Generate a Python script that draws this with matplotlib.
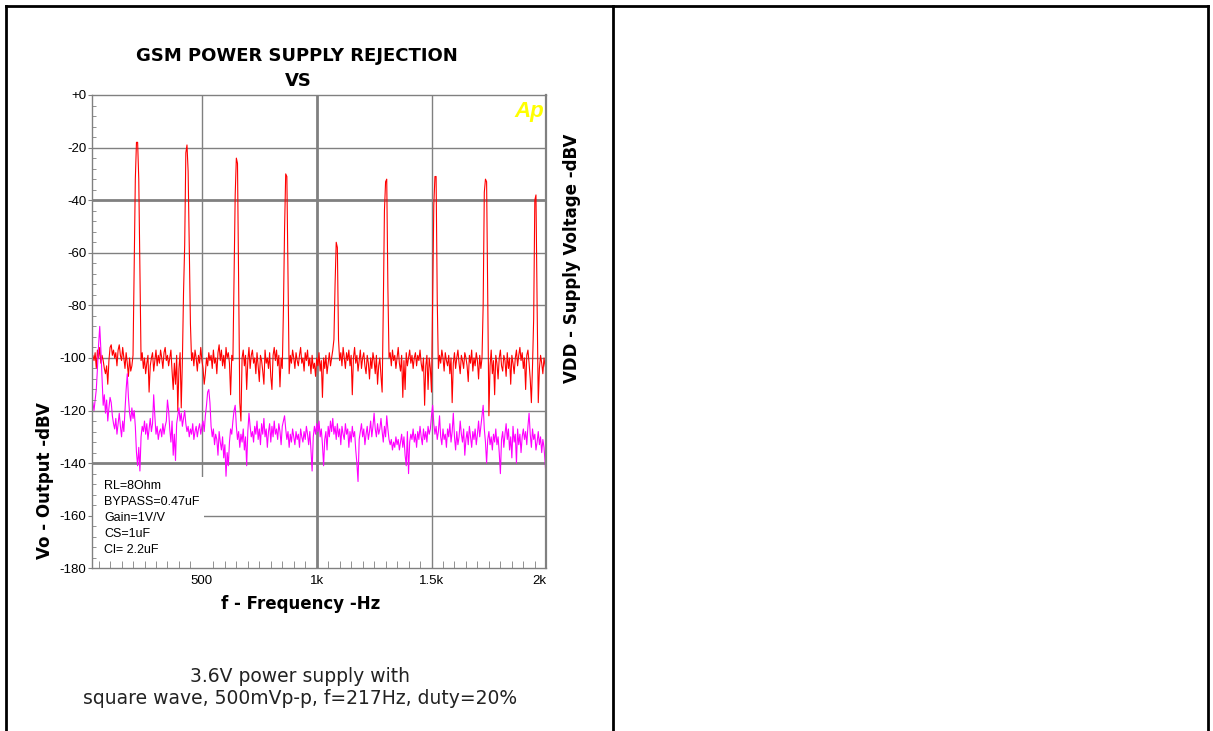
import numpy as np
import matplotlib
matplotlib.use("Agg")
import matplotlib.pyplot as plt
from matplotlib.ticker import MultipleLocator
from matplotlib.patches import Rectangle
from matplotlib.lines import Line2D

# analyzer sweep: 20 Hz .. 2 kHz, one reading every 5 Hz
freq_start = 20
freq_stop = 2000
freq_step = 5

# VDD - supply voltage (dBV), red trace
supply_dbv = [
    -103, -99, -101, -98, -104, -97, -100, -96, -102, -99, -101, -104, -106, -103, -110, -101, -96, -95, -99, -97,
    -100, -98, -103, -97, -95, -99, -101, -96, -100, -104, -98, -102, -107, -100, -105, -103, -99, -66, -32, -18,
    -18, -32, -67, -101, -98, -104, -100, -106, -102, -99, -113, -103, -100, -98, -105, -101, -97, -103, -99, -102,
    -97, -100, -104, -98, -96, -101, -99, -103, -100, -97, -105, -112, -102, -110, -99, -120, -104, -98, -119, -101,
    -75, -57, -22, -19, -29, -57, -87, -101, -98, -103, -97, -100, -105, -99, -102, -96, -101, -104, -110, -106,
    -100, -103, -98, -101, -99, -104, -97, -102, -100, -106, -98, -95, -101, -97, -103, -99, -104, -96, -100, -98,
    -102, -114, -99, -101, -69, -38, -24, -26, -73, -117, -124, -100, -97, -103, -99, -112, -101, -96, -104, -99,
    -97, -102, -100, -106, -98, -103, -109, -99, -101, -105, -110, -97, -102, -100, -104, -98, -107, -112, -99, -96,
    -101, -97, -103, -99, -111, -100, -104, -82, -51, -30, -31, -68, -106, -99, -102, -97, -100, -104, -98, -101,
    -103, -99, -96, -102, -100, -105, -98, -101, -97, -103, -100, -106, -99, -104, -102, -107, -100, -103, -98, -105,
    -101, -115, -100, -104, -99, -106, -102, -98, -103, -100, -97, -93, -72, -56, -58, -93, -101, -98, -103, -96,
    -100, -104, -98, -101, -97, -103, -99, -114, -100, -96, -102, -99, -105, -101, -97, -104, -100, -98, -103, -106,
    -99, -102, -108, -100, -104, -98, -101, -106, -99, -110, -103, -100, -107, -113, -81, -44, -33, -32, -73, -100,
    -98, -103, -97, -101, -99, -104, -100, -96, -102, -105, -99, -115, -101, -112, -98, -103, -100, -97, -102, -99,
    -104, -100, -98, -103, -99, -101, -97, -102, -105, -100, -118, -103, -99, -112, -100, -104, -113, -76, -42, -31,
    -31, -78, -104, -99, -102, -97, -100, -105, -98, -101, -103, -99, -106, -100, -117, -102, -98, -104, -100, -97,
    -102, -106, -99, -101, -104, -98, -100, -103, -109, -99, -102, -97, -105, -100, -103, -98, -101, -108, -99, -104,
    -100, -80, -37, -32, -33, -78, -122, -103, -97, -106, -101, -114, -99, -102, -108, -100, -97, -103, -105, -99,
    -101, -107, -98, -104, -100, -110, -99, -102, -106, -100, -97, -103, -99, -96, -101, -98, -104, -100, -112, -99,
    -97, -102, -108, -117, -103, -85, -40, -38, -80, -117, -104, -99, -102, -106, -100, -103, -105,
]

# Vo - output (dBV), magenta trace
output_dbv = [
    -122, -117, -120, -116, -112, -104, -95, -88, -97, -108, -118, -114, -121, -116, -124, -119, -115, -117, -122, -125,
    -127, -123, -129, -125, -121, -126, -130, -124, -128, -120, -112, -106, -115, -121, -124, -119, -123, -120, -126, -136,
    -141, -134, -143, -130, -126, -128, -124, -129, -125, -131, -127, -123, -128, -125, -114, -122, -129, -126, -131, -128,
    -127, -130, -125, -129, -126, -124, -116, -120, -127, -132, -124, -137, -129, -139, -125, -122, -119, -124, -121, -126,
    -123, -120, -125, -128, -126, -130, -127, -129, -125, -131, -128, -126, -130, -127, -125, -129, -126, -124, -128, -122,
    -118, -113, -112, -117, -126, -130, -127, -133, -129, -131, -137, -128, -132, -135, -130, -138, -133, -145, -136, -141,
    -132, -127, -129, -124, -120, -118, -126, -131, -128, -134, -129, -132, -127, -135, -130, -141, -128, -121, -126, -130,
    -128, -132, -126, -129, -124, -131, -127, -133, -125, -129, -123, -130, -127, -134, -128, -125, -132, -126, -130, -124,
    -129, -127, -131, -125, -128, -133, -126, -124, -122, -127, -131, -128, -134, -129, -132, -127, -130, -133, -128, -131,
    -129, -134, -127, -130, -132, -128, -131, -126, -129, -133, -128, -135, -143, -130, -126, -129, -125, -128, -124, -130,
    -127, -133, -141, -131, -128, -135, -126, -130, -124, -128, -123, -129, -126, -131, -125, -130, -127, -133, -126, -129,
    -131, -125, -129, -127, -134, -128, -132, -126, -130, -128, -135, -140, -147, -131, -128, -125, -130, -127, -133, -129,
    -126, -131, -128, -124, -130, -126, -121, -127, -130, -125, -129, -127, -123, -128, -132, -126, -130, -122, -127, -131,
    -133, -131, -135, -132, -134, -130, -133, -131, -135, -132, -129, -134, -130, -137, -141, -128, -144, -132, -129, -131,
    -127, -132, -129, -134, -128, -131, -126, -130, -133, -127, -131, -128, -132, -126, -129, -127, -122, -118, -125, -129,
    -126, -131, -128, -122, -130, -133, -127, -131, -129, -134, -127, -130, -125, -132, -128, -121, -130, -135, -128, -133,
    -130, -124, -129, -132, -127, -137, -131, -128, -133, -126, -130, -134, -128, -131, -127, -133, -129, -124, -130, -126,
    -122, -118, -127, -132, -140, -131, -128, -133, -130, -135, -129, -132, -127, -133, -130, -136, -144, -131, -128, -134,
    -129, -125, -131, -127, -135, -130, -138, -126, -132, -129, -140, -127, -133, -129, -136, -130, -127, -131, -128, -133,
    -126, -121, -129, -134, -127, -131, -129, -135, -132, -128, -133, -130, -136, -131, -134, -140, -147,
]

y_ticks = [0, -20, -40, -60, -80, -100, -120, -140, -160, -180]
y_tick_labels = ["+0", "-20", "-40", "-60", "-80", "-100", "-120", "-140", "-160", "-180"]
x_ticks = [500, 1000, 1500, 2000]
x_tick_labels = ["500", "1k", "1.5k", "2k"]
notes = ["RL=8Ohm", "BYPASS=0.47uF", "Gain=1V/V", "CS=1uF", "Cl= 2.2uF"]

freqs = np.arange(freq_start, freq_stop + 1, freq_step)

fig = plt.figure(figsize=(12.13, 7.31), dpi=100)
W, H = 1213, 731

# table cell borders around the chart
border = dict(color="black", lw=2, transform=fig.transFigure)
fig.add_artist(Line2D([6 / W, 1208 / W], [1 - 6 / H, 1 - 6 / H], **border))
for bx in [6, 613, 1208]:
    fig.add_artist(Line2D([bx / W, bx / W], [1 - 6 / H, 0], **border))

ax = fig.add_axes([91.7 / W, 1 - 568.3 / H, 454.6 / W, 473.3 / H])
ax.set_xlim(freq_start, freq_stop)
ax.set_ylim(-180, 0)

grey = "#808080"
for y in [-20, -60, -80, -100, -120, -160]:
    ax.axhline(y, color=grey, lw=1, zorder=1)
for y in [-40, -140]:
    ax.axhline(y, color=grey, lw=2, zorder=1)
for x in [500, 1500]:
    ax.axvline(x, color=grey, lw=1, zorder=1)
ax.axvline(1000, color=grey, lw=2, zorder=1)

# white box behind the test conditions
ax.add_patch(Rectangle((0, 0), 0.247, 0.193, transform=ax.transAxes,
                       facecolor="white", edgecolor="none", zorder=1.5))

ax.plot(freqs, supply_dbv, color="#ff0000", lw=0.8, zorder=2)
ax.plot(freqs, output_dbv, color="#ff00ff", lw=0.8, zorder=2.1)

ax.set_axisbelow(False)
for s in ax.spines.values():
    s.set_color(grey)
    s.set_linewidth(1)
ax.spines["right"].set_linewidth(1.6)

ax.set_yticks(y_ticks)
ax.set_yticklabels(y_tick_labels, fontsize=9.5, family="Liberation Sans")
ax.yaxis.set_minor_locator(MultipleLocator(4))
ax.tick_params(axis="y", which="major", direction="out", length=3, color=grey, pad=1)
ax.tick_params(axis="y", which="minor", direction="in", length=3, color=grey)

ax.set_xticks(x_ticks)
ax.set_xticklabels(x_tick_labels, fontsize=9.5, family="Liberation Sans")
ax.get_xticklabels()[-1].set_horizontalalignment("right")
ax.xaxis.set_minor_locator(MultipleLocator(50))
ax.tick_params(axis="x", which="major", direction="in", length=0, pad=5)
ax.tick_params(axis="x", which="minor", direction="in", length=5, color=grey)

for i, t in enumerate(notes):
    ax.text(12.3 / 454.6, (568.3 - (486 + 16 * i)) / 473.3, t, transform=ax.transAxes,
            fontsize=9, family="Liberation Sans", va="center", ha="left", zorder=3)

ax.text(0.962, 0.966, "Ap", transform=ax.transAxes, color="#ffff00", fontsize=16,
        fontweight="bold", style="italic", family="Liberation Sans", ha="center", va="center")

bold = dict(fontweight="bold", family="DejaVu Sans", ha="center", va="center")
fig.text(297 / W, 1 - 56 / H, "GSM POWER SUPPLY REJECTION", fontsize=13, **bold)
fig.text(298 / W, 1 - 81 / H, "VS", fontsize=13, **bold)
fig.text(301 / W, 1 - 604 / H, "f - Frequency -Hz", fontsize=12, **bold)
fig.text(45 / W, 1 - 481 / H, "Vo - Output -dBV", fontsize=12, rotation=90, **bold)
fig.text(572 / W, 1 - 258 / H, "VDD - Supply Voltage -dBV", fontsize=12, rotation=90, **bold)

fig.text(300 / W, 1 - 676 / H, "3.6V power supply with", fontsize=13.5,
         family="DejaVu Sans", ha="center", va="center", color="#222222")
fig.text(300 / W, 1 - 698 / H, "square wave, 500mVp-p, f=217Hz, duty=20%", fontsize=13.5,
         family="DejaVu Sans", ha="center", va="center", color="#222222")

fig.savefig("out.png", dpi=100)
